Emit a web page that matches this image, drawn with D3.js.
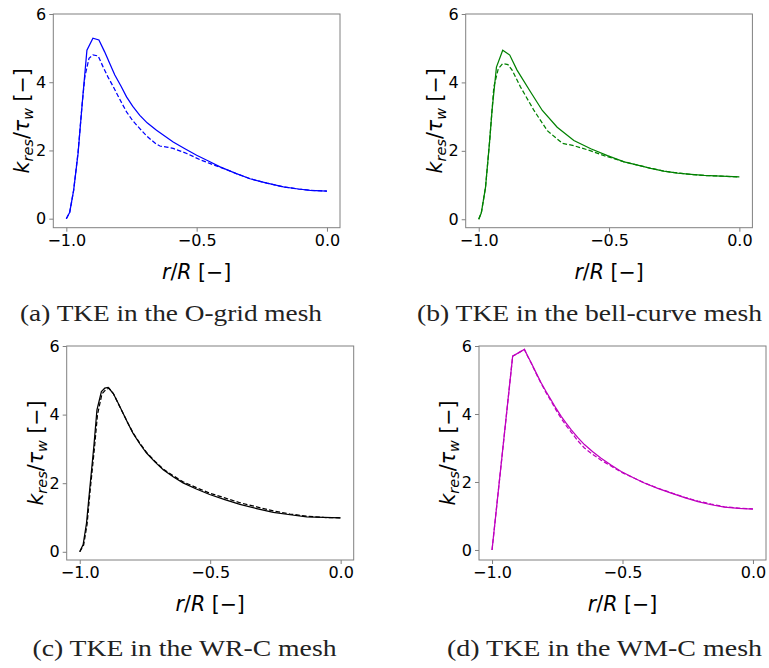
<!DOCTYPE html>
<html>
<head>
<meta charset="utf-8">
<script src="https://cdn.jsdelivr.net/npm/d3@7"></script>
<style>
  html, body { margin: 0; padding: 0; background: #fff; }
  svg { display: block; }
</style>
</head>
<body>
<svg id="chart" width="769" height="668"></svg>
<script>
// ---------- data ----------
const xTicks = [-1.0, -0.5, 0.0];
const yTicks = [0, 2, 4, 6];

// (a) O-grid mesh
const rA_solid = [-1.0, -0.987, -0.972, -0.955, -0.938, -0.921, -0.898, -0.875, -0.853, -0.833, -0.814, -0.79, -0.769, -0.745, -0.718, -0.69, -0.654, -0.62, -0.59, -0.545, -0.5, -0.455, -0.41, -0.35, -0.295, -0.23, -0.167, -0.11, -0.064, 0.0];
const kA_solid = [0.0, 0.19, 0.83, 1.91, 3.47, 4.94, 5.29, 5.24, 4.89, 4.54, 4.21, 3.88, 3.57, 3.29, 3.03, 2.81, 2.59, 2.41, 2.25, 2.05, 1.86, 1.69, 1.52, 1.33, 1.17, 1.04, 0.93, 0.87, 0.83, 0.81];
const rA_dash  = [-1.0, -0.987, -0.972, -0.955, -0.94, -0.929, -0.913, -0.898, -0.878, -0.859, -0.84, -0.82, -0.795, -0.769, -0.745, -0.718, -0.695, -0.673, -0.655, -0.641, -0.615, -0.59, -0.565, -0.538, -0.487, -0.45, -0.41, -0.35, -0.295, -0.23, -0.167, -0.11, -0.064, 0.0];
const kA_dash  = [0.0, 0.19, 0.83, 1.95, 3.3, 4.16, 4.70, 4.80, 4.77, 4.45, 4.15, 3.87, 3.50, 3.13, 2.87, 2.64, 2.45, 2.30, 2.19, 2.13, 2.10, 2.06, 1.99, 1.91, 1.73, 1.62, 1.51, 1.33, 1.17, 1.04, 0.93, 0.87, 0.83, 0.81];

// (b) bell-curve mesh
const rB_solid = [-1.0, -0.99, -0.974, -0.958, -0.949, -0.932, -0.908, -0.881, -0.853, -0.801, -0.756, -0.699, -0.635, -0.57, -0.506, -0.442, -0.39, -0.34, -0.29, -0.237, -0.185, -0.135, -0.07, 0.0];
const kB_solid = [0.0, 0.19, 0.93, 2.30, 3.18, 4.45, 4.94, 4.80, 4.36, 3.72, 3.18, 2.69, 2.30, 2.06, 1.86, 1.68, 1.58, 1.49, 1.41, 1.35, 1.31, 1.28, 1.26, 1.24];
const rB_dash  = [-1.0, -0.99, -0.974, -0.958, -0.942, -0.925, -0.908, -0.888, -0.872, -0.84, -0.788, -0.737, -0.679, -0.635, -0.57, -0.519, -0.442, -0.39, -0.34, -0.29, -0.237, -0.185, -0.135, -0.07, 0.0];
const kB_dash  = [0.0, 0.19, 0.93, 2.30, 3.87, 4.40, 4.55, 4.52, 4.36, 3.87, 3.18, 2.59, 2.22, 2.15, 2.00, 1.86, 1.68, 1.58, 1.49, 1.41, 1.35, 1.31, 1.28, 1.26, 1.24];

// (c) WR-C mesh
const rC_solid = [-1.0, -0.987, -0.974, -0.962, -0.946, -0.934, -0.917, -0.904, -0.891, -0.872, -0.853, -0.834, -0.815, -0.796, -0.77, -0.744, -0.712, -0.68, -0.642, -0.604, -0.553, -0.502, -0.444, -0.386, -0.322, -0.258, -0.194, -0.13, -0.065, 0.0];
const kC_solid = [0.0, 0.21, 0.84, 1.81, 3.07, 4.14, 4.67, 4.77, 4.79, 4.62, 4.34, 4.04, 3.74, 3.46, 3.15, 2.88, 2.62, 2.39, 2.19, 2.01, 1.83, 1.67, 1.52, 1.38, 1.26, 1.15, 1.08, 1.02, 1.00, 0.99];
const rC_dash  = [-1.0, -0.985, -0.972, -0.96, -0.944, -0.932, -0.915, -0.9, -0.888, -0.87, -0.853, -0.834, -0.815, -0.796, -0.77, -0.744, -0.712, -0.68, -0.642, -0.604, -0.553, -0.502, -0.444, -0.386, -0.322, -0.258, -0.194, -0.13, -0.065, 0.0];
const kC_dash  = [0.0, 0.20, 0.80, 1.80, 3.00, 4.00, 4.60, 4.73, 4.77, 4.60, 4.33, 4.04, 3.75, 3.47, 3.17, 2.90, 2.64, 2.41, 2.22, 2.04, 1.87, 1.71, 1.57, 1.43, 1.31, 1.19, 1.10, 1.04, 1.00, 0.99];

// (d) WM-C mesh
const rD_solid = [-1.0, -0.921, -0.876, -0.863, -0.85, -0.831, -0.812, -0.793, -0.774, -0.755, -0.735, -0.716, -0.697, -0.672, -0.646, -0.614, -0.582, -0.544, -0.505, -0.46, -0.416, -0.365, -0.313, -0.262, -0.211, -0.16, -0.109, -0.055, 0.0];
const kD_solid = [0.0, 5.70, 5.90, 5.70, 5.51, 5.21, 4.92, 4.66, 4.42, 4.17, 3.93, 3.73, 3.54, 3.31, 3.10, 2.89, 2.70, 2.50, 2.31, 2.13, 1.97, 1.81, 1.67, 1.54, 1.42, 1.33, 1.26, 1.22, 1.20];
const rD_dash  = [-1.0, -0.921, -0.876, -0.863, -0.85, -0.831, -0.812, -0.793, -0.774, -0.755, -0.735, -0.716, -0.697, -0.672, -0.646, -0.614, -0.582, -0.544, -0.505, -0.46, -0.416, -0.365, -0.313, -0.262, -0.211, -0.16, -0.109, -0.055, 0.0];
const kD_dash  = [0.0, 5.70, 5.90, 5.69, 5.50, 5.19, 4.90, 4.63, 4.38, 4.12, 3.87, 3.66, 3.47, 3.22, 3.00, 2.81, 2.64, 2.47, 2.29, 2.13, 1.97, 1.82, 1.68, 1.55, 1.44, 1.35, 1.27, 1.23, 1.21];

const captions = ["(a) TKE in the O-grid mesh", "(b) TKE in the bell-curve mesh", "(c) TKE in the WR-C mesh", "(d) TKE in the WM-C mesh"];
const colors = ["#0000ff", "#008000", "#000000", "#bf00bf"];

// ---------- layout ----------
const panels = [
  { left: 53.3,  top: 14,  w: 286.7, h: 213.7, rs: rA_solid, ks: kA_solid, rd: rA_dash, kd: kA_dash, color: colors[0], cap: captions[0], capX: 171, capY: 321, capW: 302 },
  { left: 465.7, top: 14,  w: 286.7, h: 213.7, rs: rB_solid, ks: kB_solid, rd: rB_dash, kd: kB_dash, color: colors[1], cap: captions[1], capX: 589.5, capY: 321, capW: 345 },
  { left: 66.7,  top: 346, w: 287,   h: 214,   rs: rC_solid, ks: kC_solid, rd: rC_dash, kd: kC_dash, color: colors[2], cap: captions[2], capX: 184.5, capY: 655.5, capW: 304 },
  { left: 479,   top: 346, w: 287,   h: 214,   rs: rD_solid, ks: kD_solid, rd: rD_dash, kd: kD_dash, color: colors[3], cap: captions[3], capX: 604.5, capY: 655.5, capW: 315 }
];

const svg = d3.select("#chart");
const axisColor = "#808080";
const tickFont = "'DejaVu Sans', sans-serif";

panels.forEach(p => {
  const kmax = d3.max(p.ks.concat(p.kd));
  const x = d3.scaleLinear().domain([-1.05, 0.05]).range([p.left, p.left + p.w]);
  const y = d3.scaleLinear().domain([-0.05 * kmax, 6]).range([p.top + p.h, p.top]);
  const g = svg.append("g");

  // lines
  const line = d3.line().x(d => x(d[0])).y(d => y(d[1]));
  g.append("path")
    .datum(p.rd.map((r, i) => [r, p.kd[i]]))
    .attr("d", line).attr("fill", "none").attr("stroke", p.color)
    .attr("stroke-width", 1.25).attr("stroke-dasharray", "4.5,2.2");
  g.append("path")
    .datum(p.rs.map((r, i) => [r, p.ks[i]]))
    .attr("d", line).attr("fill", "none").attr("stroke", p.color)
    .attr("stroke-width", 1.25);

  // axes
  const xAxis = d3.axisBottom(x).tickValues(xTicks).tickFormat(d3.format(".1f")).tickSize(4).tickPadding(3);
  const yAxis = d3.axisLeft(y).tickValues(yTicks).tickFormat(d3.format("d")).tickSize(4).tickPadding(3);
  const gx = g.append("g").attr("transform", `translate(0,${p.top + p.h})`).call(xAxis);
  const gy = g.append("g").attr("transform", `translate(${p.left},0)`).call(yAxis);
  [gx, gy].forEach(a => {
    a.select(".domain").remove();
    a.selectAll(".tick line").attr("stroke", axisColor).attr("stroke-width", 1);
    a.selectAll(".tick text").attr("fill", "#000").style("font-family", tickFont).style("font-size", "16px");
  });

  // frame
  g.append("rect").attr("x", p.left).attr("y", p.top).attr("width", p.w).attr("height", p.h)
    .attr("fill", "none").attr("stroke", axisColor).attr("stroke-width", 1);

  // x label
  const xl = g.append("text")
    .attr("x", p.left + p.w / 2).attr("y", p.top + p.h + 51)
    .attr("text-anchor", "middle")
    .style("font-family", tickFont).style("font-size", "20.5px").attr("fill", "#000");
  xl.append("tspan").style("font-style", "italic").text("r");
  xl.append("tspan").text("/");
  xl.append("tspan").style("font-style", "italic").text("R");
  xl.append("tspan").text(" [\u2212]");

  // y label
  const yl = g.append("text")
    .attr("transform", `translate(${p.left - 31},${p.top + p.h / 2}) rotate(-90)`)
    .attr("text-anchor", "middle").attr("dy", "0.35em")
    .style("font-family", tickFont).style("font-size", "20.5px").attr("fill", "#000");
  yl.append("tspan").style("font-style", "italic").text("k");
  yl.append("tspan").style("font-style", "italic").style("font-size", "14.5px").attr("dy", "4").text("res");
  yl.append("tspan").attr("dy", "-4").text("/");
  yl.append("tspan").style("font-style", "italic").text("\u03c4");
  yl.append("tspan").style("font-style", "italic").style("font-size", "14.5px").attr("dy", "4").text("w");
  yl.append("tspan").attr("dy", "-4").text(" [\u2212]");

  // caption
  svg.append("text")
    .attr("x", p.capX).attr("y", p.capY)
    .attr("text-anchor", "middle")
    .attr("textLength", p.capW).attr("lengthAdjust", "spacingAndGlyphs")
    .style("font-family", "'Liberation Serif', 'DejaVu Serif', serif")
    .style("font-size", "24px").attr("fill", "#222")
    .text(p.cap);
});
</script>
</body>
</html>
